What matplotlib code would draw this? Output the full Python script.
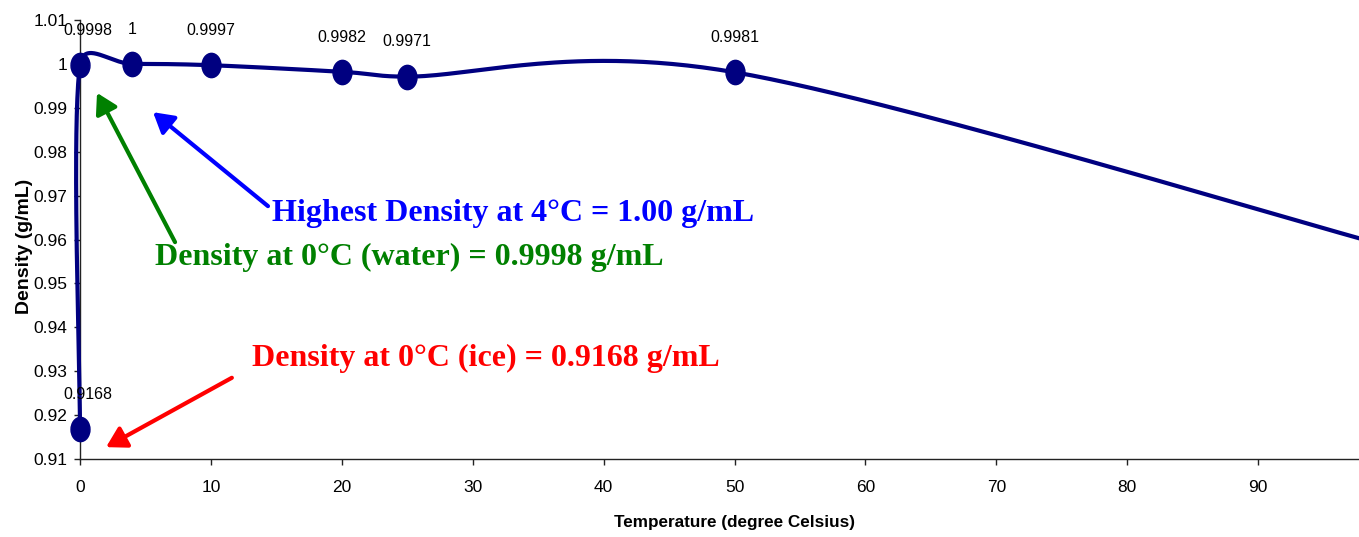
import numpy as np
import matplotlib
matplotlib.use('Agg')
import matplotlib.pyplot as plt
from matplotlib.path import Path

# data (last point lies past the right edge)
temps = [0, 0, 4, 10, 20, 25, 50, 100]
density = [0.9168, 0.9998, 1.0, 0.9997, 0.9982, 0.9971, 0.9981, 0.9584]
labels = ['0.9168', '0.9998', '1', '0.9997', '0.9982', '0.9971', '0.9981', '0.9584']
xticks = [0, 10, 20, 30, 40, 50, 60, 70, 80, 90]
yticks = [0.91, 0.92, 0.93, 0.94, 0.95, 0.96, 0.97, 0.98, 0.99, 1.0, 1.01]
ytick_labels = ['0.91', '0.92', '0.93', '0.94', '0.95', '0.96', '0.97', '0.98', '0.99', '1', '1.01']

NAVY = '#000080'


def excel_smooth(pts, n=60):
    # bezier smoothing the way a spreadsheet draws a "smoothed line"
    pts = np.asarray(pts, float)
    out = []
    m = len(pts)
    for i in range(m - 1):
        p0 = pts[max(i - 1, 0)]
        p1 = pts[i]
        p2 = pts[i + 1]
        p3 = pts[min(i + 2, m - 1)]
        d12 = np.hypot(*(p2 - p1))
        d02 = np.hypot(*(p2 - p0))
        d13 = np.hypot(*(p3 - p1))
        f1 = 1 / 6.
        if d02 * f1 > d12 / 2:
            f1 = d12 / 2 / d02
        f2 = 1 / 6.
        if d13 * f2 > d12 / 2:
            f2 = d12 / 2 / d13
        b1 = p1 + (p2 - p0) * f1
        b2 = p2 - (p3 - p1) * f2
        t = np.linspace(0, 1, n)[:, None]
        seg = ((1 - t) ** 3 * p1 + 3 * t * (1 - t) ** 2 * b1
               + 3 * t ** 2 * (1 - t) * b2 + t ** 3 * p2)
        out.append(seg)
    return np.vstack(out)


fig = plt.figure(figsize=(13.59, 5.37), dpi=100)
ax = fig.add_axes([80 / 1359, 1 - 459 / 537, 1 - 80 / 1359, (459 - 20) / 537])
ax.set_xlim(0, 97.7)
ax.set_ylim(0.91, 1.01)

# smooth in screen space, then go back to data coords
disp = ax.transData.transform(np.column_stack([temps, density]))
curve = ax.transData.inverted().transform(excel_smooth(disp))
ax.plot(curve[:, 0], curve[:, 1], color=NAVY, lw=3, clip_on=False, zorder=3,
        solid_capstyle='round')

ell = Path.unit_circle()
ell = Path(ell.vertices * [0.78, 1.0], ell.codes)
ax.plot(temps, density, ls='none', marker=ell, ms=17.5, color=NAVY,
        clip_on=False, zorder=4)

for x, y, s in zip(temps, density, labels):
    dx = 6 if x == 0 else 0
    ax.annotate(s, (x, y), xytext=(dx, 25), textcoords='offset points',
                ha='center', va='center', fontsize=11.5,
                family='Liberation Sans', annotation_clip=True)

ax.set_xticks(xticks)
ax.set_yticks(yticks)
ax.set_yticklabels(ytick_labels)
ax.tick_params(labelsize=12.5, direction='out', length=4, width=1, color='#222222')
ax.tick_params(axis='x', pad=11)
ax.tick_params(axis='y', pad=5)
for lab in ax.get_xticklabels() + ax.get_yticklabels():
    lab.set_family('Liberation Sans')

for side in ['top', 'right']:
    ax.spines[side].set_visible(False)
for side in ['left', 'bottom']:
    ax.spines[side].set_color('#222222')
    ax.spines[side].set_linewidth(1)

ax.set_xlabel('Temperature (degree Celsius)', fontsize=12.3, fontweight='bold',
              family='Liberation Sans')
ax.set_ylabel('Density (g/mL)', fontsize=14, fontweight='bold',
              family='Liberation Sans')
ax.xaxis.set_label_coords(0.512, -0.128)
ax.yaxis.set_label_coords(-0.0367, 0.485)

# callouts
notes = [
    ('Highest Density at 4\u00b0C = 1.00 g/mL', '#0000ff', (14.67, 0.9660), (14.36, 0.9676), (5.58, 0.9890)),
    ('Density at 0\u00b0C (water) = 0.9998 g/mL', '#008000', (5.73, 0.9558), (7.26, 0.9594), (1.30, 0.9934)),
    ('Density at 0\u00b0C (ice) = 0.9168 g/mL', '#ff0000', (13.14, 0.9330), (11.6, 0.9285), (1.99, 0.9127)),
]
for txt, col, tpos, tail, head in notes:
    ax.annotate('', xy=head, xytext=tail,
                arrowprops=dict(arrowstyle='-|>,head_length=0.6,head_width=0.35',
                                mutation_scale=20, lw=3, color=col,
                                shrinkA=0, shrinkB=0))
    ax.text(tpos[0], tpos[1], txt, color=col, fontsize=23, fontweight='bold',
            family='Liberation Serif', ha='left', va='center')

fig.savefig('out.png', dpi=100)
